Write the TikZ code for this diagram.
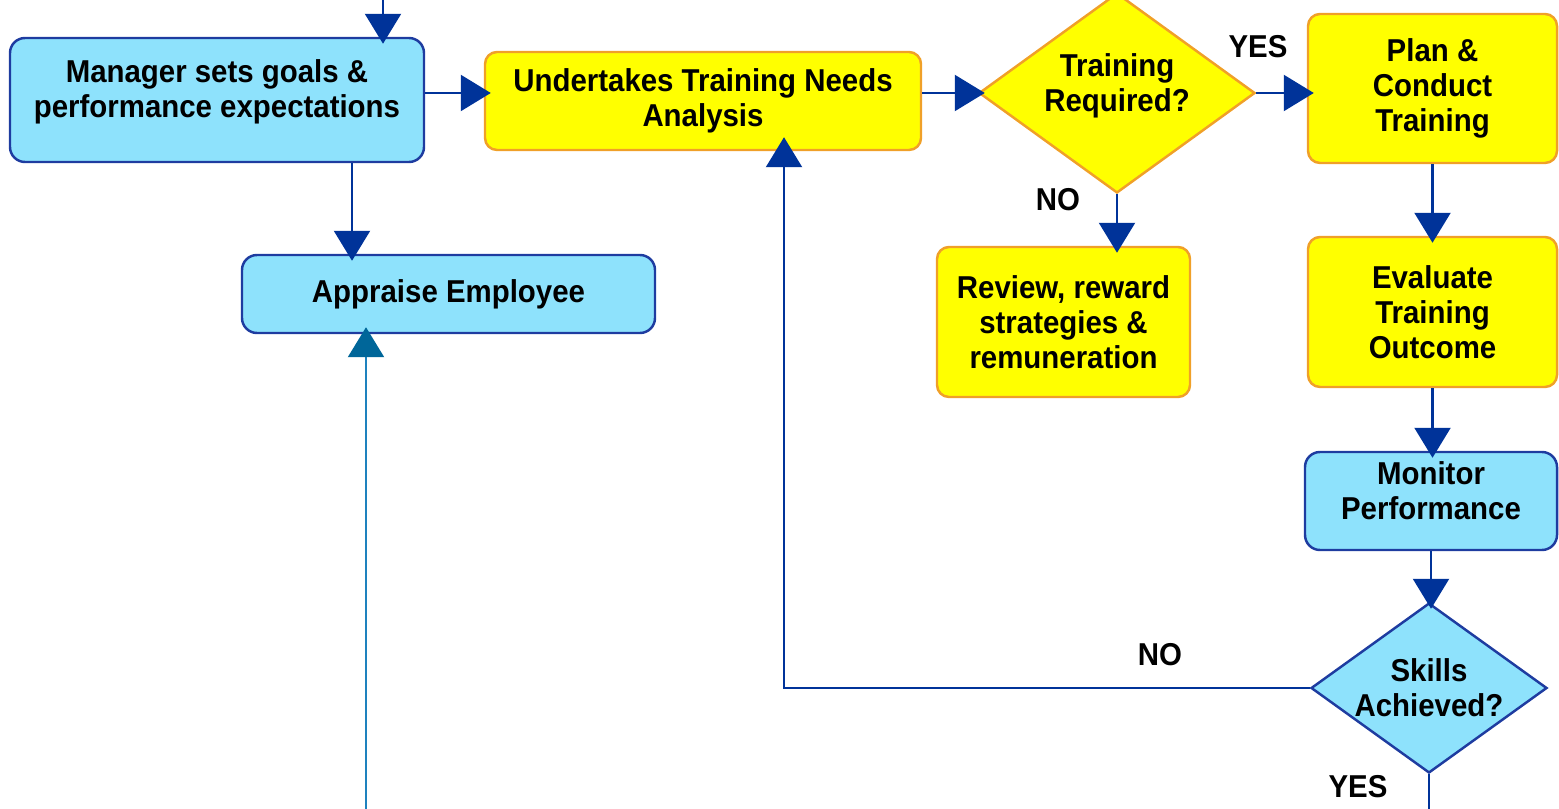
\documentclass[tikz,border=0pt]{standalone}
\usepackage{fontspec}
\setmainfont{Liberation Sans}[FakeStretch=0.93]
\usetikzlibrary{arrows.meta,shapes.geometric,calc}
\definecolor{boxblue}{RGB}{142,226,252}
\definecolor{lineblue}{RGB}{30,60,160}
\definecolor{boxyellow}{RGB}{255,255,0}
\definecolor{edgeorange}{RGB}{240,160,40}
\definecolor{arrowblue}{RGB}{0,51,153}
\definecolor{tealarrow}{RGB}{0,102,153}
\definecolor{tealline}{RGB}{30,130,190}
\def\TipLen{0.3cm}
\def\TipWid{0.36cm}
\def\Shift{1.35cm}

\begin{document}
\begin{tikzpicture}[
  font=\fontsize{9}{10}\selectfont\bfseries,
  bluebox/.style={draw=lineblue, line width=0.7pt, fill=boxblue, rounded corners=0.15cm, align=center, inner sep=0},
  yellowbox/.style={draw=edgeorange, line width=0.7pt, fill=boxyellow, rounded corners=0.12cm, align=center, inner sep=0},
  decision/.style={diamond, line width=0.7pt, inner xsep=-0.25cm, inner ysep=0, aspect=1.39, align=center},
  flow/.style={draw=arrowblue, line width=0.65pt, shorten >=-0.07cm, -{Triangle[length=\TipLen,width=\TipWid]}},
]
\useasboundingbox (0,0) rectangle (15.59,-8.09);

\node[bluebox, minimum width=4.14cm, minimum height=1.24cm] (mgr) at (2.17,-1.00) {Manager sets goals \&\\performance expectations\\[-0.12cm]};
\node[yellowbox, minimum width=4.36cm, minimum height=0.98cm] (tna) at (7.03,-1.01) {Undertakes Training Needs\\Analysis};
\node[decision, draw=edgeorange, fill=boxyellow, minimum width=2.76cm, minimum height=2.0cm] (treq) at (11.17,-0.93) {Training\\Required?\\[-0.15cm]};
\node[yellowbox, minimum width=2.49cm, minimum height=1.49cm] (plan) at (14.325,-0.885) {Plan \&\\Conduct\\Training};
\node[yellowbox, minimum width=2.49cm, minimum height=1.50cm] (eval) at (14.325,-3.12) {Evaluate\\Training\\Outcome};
\node[bluebox, minimum width=2.52cm, minimum height=0.98cm] (mon) at (14.31,-5.01) {Monitor\\Performance\\[-0.15cm]};
\node[decision, draw=lineblue, fill=boxblue, minimum width=2.36cm, minimum height=1.7cm] (skills) at (14.29,-6.88) {Skills\\Achieved?};
\node[yellowbox, minimum width=2.53cm, minimum height=1.50cm] (review) at (10.635,-3.22) {Review, reward\\strategies \&\\remuneration};
\node[bluebox, minimum width=4.13cm, minimum height=0.78cm] (appr) at (4.485,-2.94) {Appraise Employee};

\node (yestrain) at (12.58,-0.47) {YES};
\node (notrain) at (10.58,-2.0) {NO};
\node (noskill) at (11.6,-6.55) {NO};
\node (yesskill) at (13.58,-7.87) {YES};

\coordinate (topin) at (3.83,0);
\coordinate (botin) at (3.66,-8.09);
\coordinate (back) at (7.84,-6.84);
\coordinate (yesout) at (skills.south |- botin);

\draw[flow] (topin) -- (topin |- mgr.north);
\draw[flow] (mgr.east |- treq.west) -- (tna.west |- treq.west);
\draw[flow] (tna.east |- treq.west) -- (treq.west);
\draw[flow] (treq.east) -- (treq.east -| plan.west);
\draw[flow] (treq.south) -- (treq.south |- review.north);
\draw[flow] (plan.south) -- (eval.north);
\draw[flow] (eval.south) -- (eval.south |- mon.north);
\draw[flow] (mon.south) -- (mon.south |- skills.north);
\draw[flow, shorten >=-0.14cm] (skills.west) -- (skills.west -| back) -- (back |- tna.south);
\draw[draw=arrowblue, line width=0.65pt] (skills.south) -- (yesout);
\draw[flow] ([xshift=\Shift]mgr.south) -- ([xshift=\Shift]mgr.south |- appr.north);
\draw[flow, draw=tealline, -{Triangle[length=\TipLen,width=\TipWid,color=tealarrow]}] (botin) -- (botin |- appr.south);
\end{tikzpicture}
\end{document}
